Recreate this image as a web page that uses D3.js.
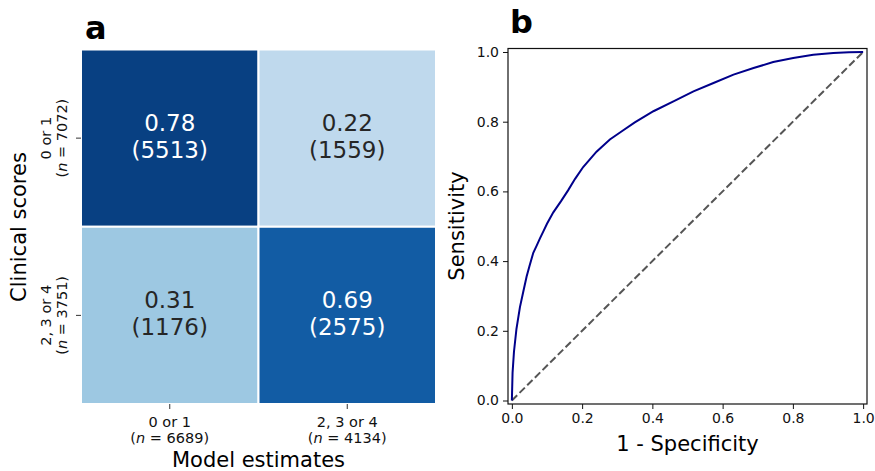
<!DOCTYPE html>
<html><head><meta charset="utf-8">
<script src="https://cdn.jsdelivr.net/npm/d3@7"></script>
<style>body{margin:0;background:#fff}svg{display:block;font-family:"DejaVu Sans",sans-serif}</style>
</head><body><svg id="c" width="875" height="471"></svg>
<script>
// ---- data ----
const modelCats = ["0 or 1", "2, 3 or 4"];          // columns (Model estimates)
const modelN = [6689, 4134];
const clinicalCats = ["0 or 1", "2, 3 or 4"];       // rows (Clinical scores)
const clinicalN = [7072, 3751];
const proportions = [[0.78, 0.22], [0.31, 0.69]];
const counts = [[5513, 1559], [1176, 2575]];
const rocFPR = [0,0.002,0.006,0.013,0.023,0.032,0.042,0.05,0.061,0.07,0.08,0.09,0.1,0.118,0.14,0.16,0.18,0.203,0.241,0.279,0.312,0.35,0.403,0.46,0.517,0.574,0.631,0.688,0.744,0.801,0.858,0.915,0.96,1];
const rocTPR = [0,0.08,0.14,0.205,0.268,0.31,0.356,0.385,0.424,0.443,0.465,0.486,0.507,0.54,0.572,0.603,0.636,0.67,0.714,0.749,0.772,0.798,0.83,0.858,0.887,0.911,0.935,0.954,0.971,0.983,0.992,0.997,0.999,1];
const rocTicks = [0, 0.2, 0.4, 0.6, 0.8, 1.0];

const svg = d3.select("#c");

// ---- panel a: heatmap ----
const hx = d3.scaleBand().domain(modelCats).range([81, 436]);
const hy = d3.scaleBand().domain(clinicalCats).range([49.5, 404]);
const color = d3.scaleSequential(d3.interpolateBlues).domain([0, 0.83]);
const cells = [];
clinicalCats.forEach((r, i) => modelCats.forEach((c, j) => cells.push({r, c, p: proportions[i][j], n: counts[i][j]})));
const ga = svg.append("g");
ga.selectAll("rect").data(cells).enter().append("rect")
  .attr("x", d => hx(d.c)).attr("y", d => hy(d.r))
  .attr("width", hx.bandwidth()).attr("height", hy.bandwidth())
  .attr("fill", d => color(d.p)).attr("stroke", "#fff").attr("stroke-width", 2);
const ct = ga.selectAll("text.cell").data(cells).enter().append("text")
  .attr("class", "cell").attr("text-anchor", "middle").attr("font-size", 23)
  .attr("fill", d => d.p > 0.5 ? "#fff" : "#262626");
ct.append("tspan").attr("x", d => hx(d.c) + hx.bandwidth() / 2).attr("y", d => hy(d.r) + hy.bandwidth() / 2 - 7.5).text(d => d.p.toFixed(2));
ct.append("tspan").attr("x", d => hx(d.c) + hx.bandwidth() / 2).attr("y", d => hy(d.r) + hy.bandwidth() / 2 + 19.5).text(d => "(" + d.n + ")");

// x ticks
modelCats.forEach((c, j) => {
  const x = hx(c) + hx.bandwidth() / 2;
  ga.append("line").attr("x1", x).attr("x2", x).attr("y1", 404).attr("y2", 409).attr("stroke", "#333").attr("stroke-width", 1);
  const t = ga.append("text").attr("text-anchor", "middle").attr("font-size", 14.5).attr("fill", "#111");
  t.append("tspan").attr("x", x).attr("y", 426.5).text(c);
  const t2 = t.append("tspan").attr("x", x).attr("y", 443);
  t2.append("tspan").text("(");
  t2.append("tspan").attr("font-style", "italic").text("n");
  t2.append("tspan").text(" = " + modelN[j] + ")");
});
// y ticks
clinicalCats.forEach((c, i) => {
  const y = hy(c) + hy.bandwidth() / 2;
  ga.append("line").attr("x1", 76).attr("x2", 81).attr("y1", y).attr("y2", y).attr("stroke", "#333").attr("stroke-width", 1);
  const t = ga.append("text").attr("text-anchor", "middle").attr("font-size", 14.5).attr("fill", "#111")
    .attr("transform", `translate(0,${y}) rotate(-90)`);
  t.append("tspan").attr("x", 0).attr("y", 50.5).text(c);
  const t2 = t.append("tspan").attr("x", 0).attr("y", 67);
  t2.append("tspan").text("(");
  t2.append("tspan").attr("font-style", "italic").text("n");
  t2.append("tspan").text(" = " + clinicalN[i] + ")");
});
ga.append("text").attr("text-anchor", "middle").attr("font-size", 21).attr("x", 258.5).attr("y", 467).text("Model estimates");
ga.append("text").attr("text-anchor", "middle").attr("font-size", 21).attr("transform", "translate(26,227) rotate(-90)").text("Clinical scores");
svg.append("text").attr("x", 85).attr("y", 39).attr("font-size", 32).attr("font-weight", "bold").text("a");

// ---- panel b: ROC ----
const rx = d3.scaleLinear().domain([-0.011, 1.011]).range([508, 867]);
const ry = d3.scaleLinear().domain([-0.01, 1.01]).range([404, 48.5]);
const gb = svg.append("g");
gb.append("line").attr("x1", rx(0)).attr("y1", ry(0)).attr("x2", rx(1)).attr("y2", ry(1))
  .attr("stroke", "#555").attr("stroke-width", 2).attr("stroke-dasharray", "7.5,3.3");
const line = d3.line().x(d => rx(d[0])).y(d => ry(d[1]));
gb.append("path").datum(rocFPR.map((f, i) => [f, rocTPR[i]])).attr("d", line)
  .attr("fill", "none").attr("stroke", "#00008b").attr("stroke-width", 2);
gb.append("rect").attr("x", 508).attr("y", 48.5).attr("width", 359).attr("height", 355.5)
  .attr("fill", "none").attr("stroke", "#111").attr("stroke-width", 1.2);
const xAxis = gb.append("g").attr("transform", "translate(0,404)")
  .call(d3.axisBottom(rx).tickValues(rocTicks).tickFormat(d3.format(".1f")).tickSize(5).tickPadding(4));
const yAxis = gb.append("g").attr("transform", "translate(508,0)")
  .call(d3.axisLeft(ry).tickValues(rocTicks).tickFormat(d3.format(".1f")).tickSize(5).tickPadding(4));
[xAxis, yAxis].forEach(a => {
  a.select(".domain").remove();
  a.selectAll("text").attr("font-size", 14).attr("font-family", "DejaVu Sans").attr("fill", "#111");
  a.selectAll("line").attr("stroke", "#111");
});
gb.append("text").attr("text-anchor", "middle").attr("font-size", 21).attr("x", 687.5).attr("y", 451).text("1 - Specificity");
gb.append("text").attr("text-anchor", "middle").attr("font-size", 21).attr("transform", "translate(464,226) rotate(-90)").text("Sensitivity");
svg.append("text").attr("x", 510).attr("y", 33).attr("font-size", 32).attr("font-weight", "bold").text("b");
</script></body></html>
